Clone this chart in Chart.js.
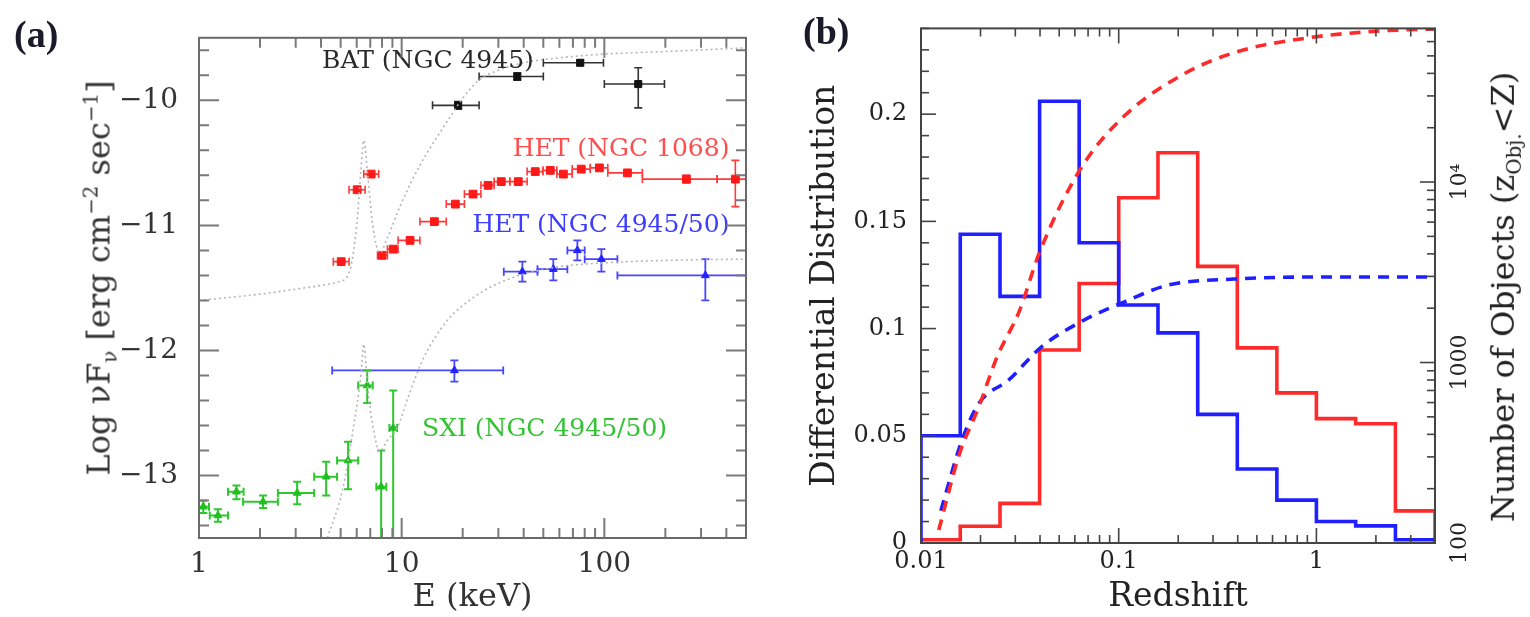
<!DOCTYPE html>
<html><head><meta charset="utf-8">
<script src="https://cdn.jsdelivr.net/npm/chart.js@4.4.1/dist/chart.umd.min.js"></script>
<style>
html,body{margin:0;padding:0;background:#fff;}
#wrap{position:relative;width:1530px;height:617px;overflow:hidden;background:#fff;}
canvas{position:absolute;top:0;}
#ca{left:0;} #cb{left:765px;}
.lbl{position:absolute;font-family:"Liberation Serif",serif;font-weight:bold;font-size:38px;line-height:38px;color:#1a1a2a;}
.rt{position:absolute;font-family:"DejaVu Serif",serif;white-space:nowrap;transform:translate(-50%,-50%) rotate(-90deg);line-height:1;}
.rt sub,.rt sup{font-size:62%;}
</style></head><body>
<div id="wrap">
<canvas id="ca" width="765" height="617"></canvas>
<canvas id="cb" width="765" height="617"></canvas>
<div class="lbl" style="left:14px;top:15px;">(a)</div>
<div class="lbl" style="left:803px;top:12px;">(b)</div>
<div class="rt" style="left:101px;top:278px;font-size:32px;color:#333;">Log νF<sub>ν</sub> [erg cm<sup>−2</sup> sec<sup>−1</sup>]</div>
<div class="rt" style="left:1506px;top:297px;font-size:32px;color:#222;">Number of Objects (z<sub>Obj.</sub>&lt;Z)</div>
</div>
<script>
// ---------------- Panel (a): energies (keV) and log nuFnu ----------------
const batE   = [19.0, 37.2, 76.0, 147];
const batELo = [14.2, 24.1, 50.0, 100];
const batEHi = [24.1, 50.0, 99.0, 198];
const batF   = [-10.04, -9.81, -9.70, -9.87];
const batFLo = [-10.07, -9.84, -9.72, -10.06];
const batFHi = [-10.01, -9.78, -9.68, -9.74];

const het1068E   = [5.03, 6.03, 7.07, 8.0, 9.08, 11.0, 14.5, 18.4, 22.5, 26.7, 31.0, 37.6, 45.6, 54.1, 62.8, 76.9, 94.5, 130, 254, 443];
const het1068ELo = [4.6, 5.5, 6.5, 7.6, 8.5, 9.6, 12.3, 16.6, 20.4, 24.6, 28.6, 34.2, 41.6, 49.8, 58.3, 69.4, 85.2, 104, 154, 360];
const het1068EHi = [5.5, 6.6, 7.7, 8.5, 9.6, 12.3, 16.6, 20.4, 24.6, 28.6, 34.2, 41.6, 49.8, 58.3, 69.4, 85.2, 104, 154, 360, 540];
const het1068F   = [-11.29, -10.715, -10.59, -11.24, -11.19, -11.12, -10.97, -10.83, -10.75, -10.68, -10.65, -10.65, -10.57, -10.56, -10.59, -10.55, -10.54, -10.58, -10.63, -10.63];
const het1068FLo = [-11.30, -10.73, -10.61, -11.26, -11.21, -11.14, -10.99, -10.85, -10.77, -10.70, -10.67, -10.67, -10.59, -10.58, -10.61, -10.57, -10.56, -10.60, -10.66, -10.85];
const het1068FHi = [-11.28, -10.70, -10.57, -11.22, -11.17, -11.10, -10.95, -10.81, -10.73, -10.66, -10.63, -10.63, -10.55, -10.54, -10.57, -10.53, -10.52, -10.56, -10.60, -10.48];

const het4945E   = [18.2, 39.4, 56.0, 73.6, 96.7, 315];
const het4945ELo = [4.54, 31.9, 46.8, 65.7, 80.0, 116];
const het4945EHi = [31.7, 46.8, 65.7, 80.0, 116, 540];
const het4945F   = [-12.16, -11.37, -11.35, -11.20, -11.27, -11.40];
const het4945FLo = [-12.25, -11.45, -11.44, -11.28, -11.37, -11.60];
const het4945FHi = [-12.08, -11.29, -11.27, -11.12, -11.19, -11.27];

const sxiE   = [1.05, 1.24, 1.53, 2.07, 3.05, 4.24, 5.44, 6.76, 7.92, 9.08];
const sxiELo = [0.98, 1.13, 1.39, 1.65, 2.45, 3.70, 4.80, 6.10, 7.50, 8.70];
const sxiEHi = [1.12, 1.39, 1.66, 2.45, 3.70, 4.80, 6.10, 7.20, 8.40, 9.50];
const sxiF   = [-13.25, -13.32, -13.13, -13.21, -13.14, -13.01, -12.88, -12.28, -13.09, -12.62];
const sxiFLo = [-13.30, -13.37, -13.19, -13.26, -13.23, -13.16, -13.11, -12.42, -13.80, -13.80];
const sxiFHi = [-13.20, -13.27, -13.08, -13.16, -13.05, -12.89, -12.73, -12.16, -12.80, -12.32];

const modelHighE = [1, 2, 3, 4, 4.9, 5.5, 6.0, 6.3, 6.5, 6.8, 7.2, 7.8, 8.5, 9.8, 12.3, 16.0, 20.1, 24.4, 30, 40, 60, 100, 200, 500];
const modelHighF = [-11.60, -11.55, -11.51, -11.48, -11.45, -11.38, -11.0, -10.55, -10.32, -10.6, -11.0, -11.22, -11.1, -10.85, -10.52, -10.22, -9.98, -9.83, -9.76, -9.70, -9.66, -9.63, -9.61, -9.58];
const modelLowE  = [4.3, 5.1, 5.8, 6.3, 6.5, 6.8, 7.2, 7.8, 8.5, 9.5, 10.9, 12.5, 14.2, 17, 19.7, 25, 31.3, 40, 60, 100, 200, 500];
const modelLowF  = [-13.5, -13.12, -12.6, -12.19, -11.95, -12.3, -12.6, -12.81, -12.72, -12.62, -12.35, -12.1, -11.93, -11.75, -11.65, -11.53, -11.45, -11.39, -11.33, -11.30, -11.28, -11.27];

const aSeriesLabels = ['BAT (NGC 4945)', 'HET (NGC 1068)', 'HET (NGC 4945/50)', 'SXI (NGC 4945/50)'];

// ---------------- Panel (b): redshift distributions ----------------
const zEdges   = [0.01, 0.0158, 0.0251, 0.0398, 0.0631, 0.1, 0.158, 0.251, 0.398, 0.631, 1.0, 1.58, 2.51, 3.98];
const blueDiff = [0.050, 0.144, 0.115, 0.206, 0.140, 0.111, 0.098, 0.060, 0.0345, 0.020, 0.010, 0.008, 0.0015];
const redDiff  = [0.0015, 0.0078, 0.0185, 0.090, 0.121, 0.161, 0.182, 0.129, 0.091, 0.070, 0.058, 0.0556, 0.015];
const redCumZ  = [0.0123, 0.0156, 0.0197, 0.0243, 0.0314, 0.0397, 0.0634, 0.1035, 0.204, 0.384, 0.90, 2.11, 3.98];
const redCumN  = [118, 308, 576, 1080, 1920, 4060, 11600, 22500, 38600, 52100, 62900, 68700, 70500];
const blueCumZ = [0.0126, 0.016, 0.0197, 0.0277, 0.0407, 0.0649, 0.107, 0.179, 0.384, 1.11, 3.98];
const blueCumN = [151, 363, 598, 798, 1222, 1690, 2170, 2690, 2900, 2980, 2980];
const y2TickValues = [100, 1000, 10000];
const y2TickLabels = ['100', '1000', '10⁴'];

// ---------------- helpers ----------------
const FONT = '"DejaVu Serif", serif';
const pts = (xs, ys) => xs.map((v, i) => ({x: v, y: ys[i]}));
const histPts = (edges, vals) => {
  const out = [{x: edges[0], y: 0}];
  vals.forEach((v, i) => out.push({x: edges[i], y: v}));
  out.push({x: edges[edges.length - 1], y: vals[vals.length - 1]});
  out.push({x: edges[edges.length - 1], y: 0});
  return out;
};
const range = (a, b, s) => { const o = []; for (let v = a; v <= b + 1e-9; v += s) o.push(Math.round(v * 1000) / 1000); return o; };
const isPow10 = v => { const l = Math.log10(v); return Math.abs(l - Math.round(l)) < 1e-9; };
const fmtPow = v => v >= 1 ? String(Math.round(v)) : v.toFixed(-Math.round(Math.log10(v)));

function frameTicks(cfg) {
  return { id: 'frameTicks', afterDraw(chart) {
    const {ctx, chartArea: a} = chart;
    ctx.save();
    ctx.lineWidth = cfg.tickWidth; ctx.strokeStyle = cfg.tickColor;
    Object.entries(cfg.axes).forEach(([id, ax]) => {
      const sc = chart.scales[id];
      sc.ticks.forEach(t => {
        const v = t.value; let major;
        if (ax.log) {
          const ex = Math.floor(Math.log10(v) + 1e-9);
          const m = v / Math.pow(10, ex);
          if (Math.abs(m - Math.round(m)) > 1e-6) return;
          major = Math.round(m) === 1;
        } else {
          const q = v / ax.major; major = Math.abs(q - Math.round(q)) < 1e-6;
        }
        const p = sc.getPixelForValue(v);
        const L = major ? cfg.majorLen : cfg.minorLen;
        ctx.beginPath();
        ax.sides.forEach(s => {
          if (s === 'bottom') { ctx.moveTo(p, a.bottom); ctx.lineTo(p, a.bottom - L); }
          if (s === 'top') { ctx.moveTo(p, a.top); ctx.lineTo(p, a.top + L); }
          if (s === 'left') { ctx.moveTo(a.left, p); ctx.lineTo(a.left + L, p); }
          if (s === 'right') { ctx.moveTo(a.right, p); ctx.lineTo(a.right - L, p); }
        });
        ctx.stroke();
      });
    });
    ctx.lineWidth = cfg.frameWidth; ctx.strokeStyle = cfg.frameColor;
    ctx.strokeRect(a.left, a.top, a.right - a.left, a.bottom - a.top);
    ctx.restore();
  }};
}

const errorBars = { id: 'errorBars', beforeDatasetsDraw(chart) {
  const {ctx, chartArea: a, scales: {x, y}} = chart;
  ctx.save();
  ctx.beginPath(); ctx.rect(a.left, a.top, a.right - a.left, a.bottom - a.top); ctx.clip();
  chart.data.datasets.forEach(ds => {
    if (!ds.err) return;
    const e = ds.err, c = 4;
    ctx.strokeStyle = ds.errColor; ctx.lineWidth = ds.errWidth;
    ds.data.forEach((p, i) => {
      const px = x.getPixelForValue(p.x), py = y.getPixelForValue(p.y);
      const x0 = x.getPixelForValue(e.xLo[i]), x1 = x.getPixelForValue(e.xHi[i]);
      const y0 = y.getPixelForValue(e.yLo[i]), y1 = y.getPixelForValue(e.yHi[i]);
      ctx.beginPath();
      ctx.moveTo(x0, py); ctx.lineTo(x1, py);
      ctx.moveTo(x0, py - c); ctx.lineTo(x0, py + c);
      ctx.moveTo(x1, py - c); ctx.lineTo(x1, py + c);
      ctx.moveTo(px, y0); ctx.lineTo(px, y1);
      ctx.moveTo(px - c, y0); ctx.lineTo(px + c, y0);
      ctx.moveTo(px - c, y1); ctx.lineTo(px + c, y1);
      ctx.stroke();
    });
  });
  ctx.restore();
}};

const seriesText = { id: 'seriesText', afterDatasetsDraw(chart) {
  const {ctx, scales: {x, y}} = chart;
  ctx.save();
  ctx.font = '25px ' + FONT; ctx.textBaseline = 'middle';
  const put = (t, e, f, align, col) => { ctx.textAlign = align; ctx.fillStyle = col; ctx.fillText(t, x.getPixelForValue(e), y.getPixelForValue(f)); };
  put(aSeriesLabels[0], 4.05, -9.69, 'left', '#2a2a2a');
  put(aSeriesLabels[1], 414, -10.39, 'right', '#ff4d4d');
  put(aSeriesLabels[2], 414, -11.0, 'right', '#3d3dff');
  put(aSeriesLabels[3], 12.6, -12.63, 'left', '#33c233');
  ctx.restore();
}};

const rightLabels = { id: 'rightLabels', afterDraw(chart) {
  const {ctx, chartArea: a} = chart; const sc = chart.scales.y2;
  ctx.save(); ctx.font = '22px ' + FONT; ctx.fillStyle = '#222'; ctx.textAlign = 'center'; ctx.textBaseline = 'middle';
  y2TickValues.forEach((v, i) => {
    const p = sc.getPixelForValue(v);
    ctx.save(); ctx.translate(a.right + 25, p); ctx.rotate(-Math.PI / 2); ctx.fillText(y2TickLabels[i], 0, 0); ctx.restore();
  });
  ctx.restore();
}};

const aYTicks = range(-13.4, -9.6, 0.2);
const bYTicks = range(0, 0.24, 0.01);

// ---------------- Chart (a) ----------------
new Chart(document.getElementById('ca'), {
  type: 'scatter',
  data: { datasets: [
    { data: pts(modelHighE, modelHighF), showLine: true, borderColor: '#b5b5b5', borderWidth: 1.6, borderDash: [2, 3], pointRadius: 0, cubicInterpolationMode: 'monotone' },
    { data: pts(modelLowE, modelLowF), showLine: true, borderColor: '#b5b5b5', borderWidth: 1.6, borderDash: [2, 3], pointRadius: 0, cubicInterpolationMode: 'monotone' },
    { label: aSeriesLabels[0], data: pts(batE, batF), pointStyle: 'rect', pointRadius: 5, pointBackgroundColor: '#111', pointBorderColor: '#111',
      err: {xLo: batELo, xHi: batEHi, yLo: batFLo, yHi: batFHi}, errColor: '#333', errWidth: 1.6 },
    { label: aSeriesLabels[1], data: pts(het1068E, het1068F), pointStyle: 'rect', pointRadius: 5.5, pointBackgroundColor: '#ff1a1a', pointBorderColor: '#ff1a1a',
      err: {xLo: het1068ELo, xHi: het1068EHi, yLo: het1068FLo, yHi: het1068FHi}, errColor: '#ff3a3a', errWidth: 1.6 },
    { label: aSeriesLabels[2], data: pts(het4945E, het4945F), pointStyle: 'triangle', pointRadius: 4.5, pointBackgroundColor: '#2323ff', pointBorderColor: '#2323ff',
      err: {xLo: het4945ELo, xHi: het4945EHi, yLo: het4945FLo, yHi: het4945FHi}, errColor: '#4646ff', errWidth: 1.8 },
    { label: aSeriesLabels[3], data: pts(sxiE, sxiF), pointStyle: 'triangle', pointRadius: 4.5, pointBackgroundColor: '#1fbf1f', pointBorderColor: '#1fbf1f',
      err: {xLo: sxiELo, xHi: sxiEHi, yLo: sxiFLo, yHi: sxiFHi}, errColor: '#2ec72e', errWidth: 2 }
  ]},
  options: {
    responsive: false, animation: false,
    layout: { padding: { top: 18, right: 19, left: 0, bottom: 0 } },
    plugins: { legend: { display: false }, tooltip: { enabled: false } },
    scales: {
      x: { type: 'logarithmic', min: 1, max: 500,
        grid: { display: false, drawTicks: false }, border: { display: false },
        ticks: { autoSkip: false, maxRotation: 0, padding: 10, font: { family: FONT, size: 28 }, color: '#333', callback: v => isPow10(v) ? fmtPow(v) : '' },
        title: { display: true, text: 'E (keV)', font: { family: FONT, size: 32 }, color: '#333', padding: { top: 0, bottom: 0 } },
        afterFit: s => { s.height = 79; } },
      y: { type: 'linear', min: -13.5, max: -9.5,
        afterBuildTicks: s => { s.ticks = aYTicks.map(v => ({ value: v })); },
        grid: { display: false, drawTicks: false }, border: { display: false },
        ticks: { autoSkip: false, padding: 21, font: { family: FONT, size: 28 }, color: '#333',
          callback: v => Math.abs(v - Math.round(v)) < 1e-6 ? '−' + Math.abs(Math.round(v)) : '' },
        afterFit: s => { s.width = 199; } }
    }
  },
  plugins: [errorBars, seriesText, frameTicks({ axes: { x: { log: true, sides: ['bottom', 'top'] }, y: { major: 1, sides: ['left', 'right'] } },
    majorLen: 20, minorLen: 10, tickWidth: 2, tickColor: '#7a7a7a', frameWidth: 2, frameColor: '#6a6a6a' })]
});

// ---------------- Chart (b) ----------------
new Chart(document.getElementById('cb'), {
  type: 'scatter',
  data: { datasets: [
    { data: pts(redCumZ, redCumN), yAxisID: 'y2', showLine: true, borderColor: '#ff2a2a', borderWidth: 3.6, borderDash: [11, 8], pointRadius: 0, cubicInterpolationMode: 'monotone' },
    { data: pts(blueCumZ, blueCumN), yAxisID: 'y2', showLine: true, borderColor: '#1f1fff', borderWidth: 3.6, borderDash: [11, 8], pointRadius: 0, cubicInterpolationMode: 'monotone' },
    { data: histPts(zEdges, blueDiff), yAxisID: 'y', showLine: true, stepped: 'before', borderColor: '#1f1fff', borderWidth: 3.6, pointRadius: 0 },
    { data: histPts(zEdges, redDiff), yAxisID: 'y', showLine: true, stepped: 'before', borderColor: '#ff2a2a', borderWidth: 3.6, pointRadius: 0 }
  ]},
  options: {
    responsive: false, animation: false,
    layout: { padding: { top: 19, right: 0, left: 0, bottom: 0 } },
    plugins: { legend: { display: false }, tooltip: { enabled: false } },
    scales: {
      x: { type: 'logarithmic', min: 0.01, max: 3.98,
        grid: { display: false, drawTicks: false }, border: { display: false },
        ticks: { autoSkip: false, maxRotation: 0, padding: 4, font: { family: FONT, size: 24 }, color: '#222', callback: v => isPow10(v) ? fmtPow(v) : '' },
        title: { display: true, text: 'Redshift', font: { family: FONT, size: 33 }, color: '#222', padding: { top: 0, bottom: 0 } },
        afterFit: s => { s.height = 74; } },
      y: { type: 'linear', min: 0, max: 0.24, position: 'left',
        afterBuildTicks: s => { s.ticks = bYTicks.map(v => ({ value: v })); },
        grid: { display: false, drawTicks: false }, border: { display: false },
        ticks: { autoSkip: false, padding: 14, font: { family: FONT, size: 24 }, color: '#222',
          callback: v => { const q = v / 0.05; return Math.abs(q - Math.round(q)) < 1e-6 ? String(+v.toFixed(2)) : ''; } },
        title: { display: true, text: 'Differential Distribution', font: { family: FONT, size: 33 }, color: '#222', padding: { top: 41, bottom: 0 } },
        afterFit: s => { s.width = 156; } },
      y2: { type: 'logarithmic', min: 100, max: 71000, position: 'right',
        grid: { display: false, drawTicks: false }, border: { display: false },
        ticks: { display: false },
        afterFit: s => { s.width = 95; } }
    }
  },
  plugins: [rightLabels, frameTicks({ axes: { x: { log: true, sides: ['bottom', 'top'] }, y: { major: 0.05, sides: ['left'] }, y2: { log: true, sides: ['right'] } },
    majorLen: 15, minorLen: 8, tickWidth: 1.6, tickColor: '#444', frameWidth: 2, frameColor: '#444' })]
});
</script>
</body></html>
